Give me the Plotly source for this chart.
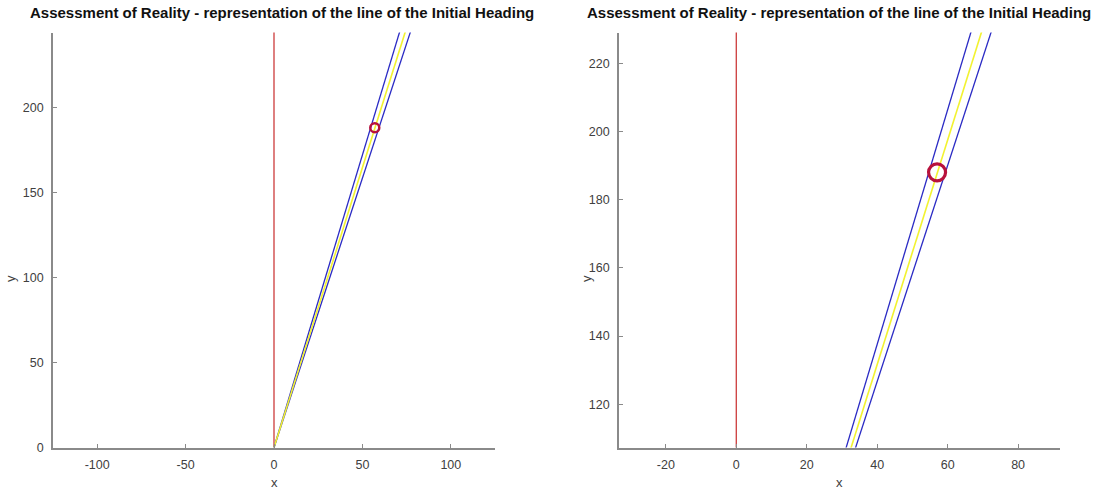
import plotly.graph_objects as go

# Observed heading point
target_x = [57.0]
target_y = [188.0]

# Reference line (x = 0)
reference_x = [0.0, 0.0]
reference_y = [0.0, 260.0]

# Initial heading line and its two bounding lines, from the origin
heading_x = [0.0, 79.0]
heading_y = [0.0, 260.0]
bound_left_x = [0.0, 75.6]
bound_left_y = [0.0, 260.0]
bound_right_x = [0.0, 82.1]
bound_right_y = [0.0, 260.0]

title_text = "Assessment of Reality - representation of the line of the Initial Heading"

# Axis limits of the overview and the zoomed view
overview_xlim = [-125, 125]
overview_ylim = [0, 244]
overview_xticks = [-100, -50, 0, 50, 100]
overview_yticks = [0, 50, 100, 150, 200]
detail_xlim = [-33.3, 91.9]
detail_ylim = [107.3, 229.0]
detail_xticks = [-20, 0, 20, 40, 60, 80]
detail_yticks = [120, 140, 160, 180, 200, 220]

W, H = 1097, 491
FONT = "Liberation Sans, Arial, sans-serif"
AXIS_GRAY = "#8a8a8a"
TICK_TEXT = "#404040"
RED = "#cc3b3b"
BLUE = "#2a2ac4"
YELLOW = "#f2f230"
MARKER = "#b8123c"

fig = go.Figure()


def add_panel(xa, ya, marker_size, marker_width):
    fig.add_trace(go.Scatter(x=reference_x, y=reference_y, mode="lines",
                             line=dict(color=RED, width=1.3),
                             xaxis=xa, yaxis=ya, showlegend=False, hoverinfo="skip"))
    fig.add_trace(go.Scatter(x=bound_left_x, y=bound_left_y, mode="lines",
                             line=dict(color=BLUE, width=1.3),
                             xaxis=xa, yaxis=ya, showlegend=False, hoverinfo="skip"))
    fig.add_trace(go.Scatter(x=bound_right_x, y=bound_right_y, mode="lines",
                             line=dict(color=BLUE, width=1.3),
                             xaxis=xa, yaxis=ya, showlegend=False, hoverinfo="skip"))
    fig.add_trace(go.Scatter(x=heading_x, y=heading_y, mode="lines",
                             line=dict(color=YELLOW, width=1.6),
                             xaxis=xa, yaxis=ya, showlegend=False, hoverinfo="skip"))
    fig.add_trace(go.Scatter(x=target_x, y=target_y, mode="markers",
                             marker=dict(symbol="circle-open", size=marker_size,
                                         color=MARKER, line=dict(width=marker_width)),
                             xaxis=xa, yaxis=ya, showlegend=False, hoverinfo="skip"))


add_panel("x", "y", 9, 2.5)
add_panel("x2", "y2", 17, 3.2)


def ticks(values):
    # plain hyphen-minus labels
    return dict(tickvals=values, ticktext=[str(v) for v in values])


y_dom = [1 - 454 / H, 1 - 33 / H]
common = dict(showgrid=False, zeroline=False, showline=True, linecolor=AXIS_GRAY,
              linewidth=1.6, ticks="inside", ticklen=4, tickcolor=AXIS_GRAY, tickwidth=1,
              tickfont=dict(family=FONT, size=12.5, color=TICK_TEXT), mirror=False,
              ticklabelstandoff=5, fixedrange=True)

fig.update_layout(
    width=W, height=H,
    margin=dict(l=0, r=0, t=0, b=0),
    paper_bgcolor="white", plot_bgcolor="white",
    xaxis=dict(domain=[53 / W, 495 / W], range=overview_xlim, anchor="y",
               **ticks(overview_xticks), **common),
    yaxis=dict(domain=y_dom, range=overview_ylim, anchor="x",
               **ticks(overview_yticks), **common),
    xaxis2=dict(domain=[619 / W, 1060 / W], range=detail_xlim, anchor="y2",
                **ticks(detail_xticks), **common),
    yaxis2=dict(domain=y_dom, range=detail_ylim, anchor="x2",
                **ticks(detail_yticks), **common),
)

title_font = dict(family=FONT, size=15, color="#111111")
annotations = [
    dict(text="<b>" + title_text + "</b>", x=282 / W, y=1 - 13 / H,
         xref="paper", yref="paper", xanchor="center", yanchor="middle",
         showarrow=False, font=title_font),
    dict(text="<b>" + title_text + "</b>", x=1093 / W, y=1 - 13 / H,
         xref="paper", yref="paper", xanchor="right", yanchor="middle",
         showarrow=False, font=title_font),
]
for cx in [(53 + 495) / 2, (619 + 1060) / 2]:
    annotations.append(dict(text="x", x=cx / W, y=1 - 489 / H, xref="paper", yref="paper",
                            xanchor="center", yanchor="middle", showarrow=False,
                            font=dict(family=FONT, size=13, color=TICK_TEXT)))
for lx in [11, 587]:
    annotations.append(dict(text="y", x=lx / W, y=1 - 283 / H, xref="paper", yref="paper",
                            xanchor="center", yanchor="middle", textangle=-90,
                            showarrow=False,
                            font=dict(family=FONT, size=13, color=TICK_TEXT)))
fig.update_layout(annotations=annotations)

fig.write_html("out.html")
